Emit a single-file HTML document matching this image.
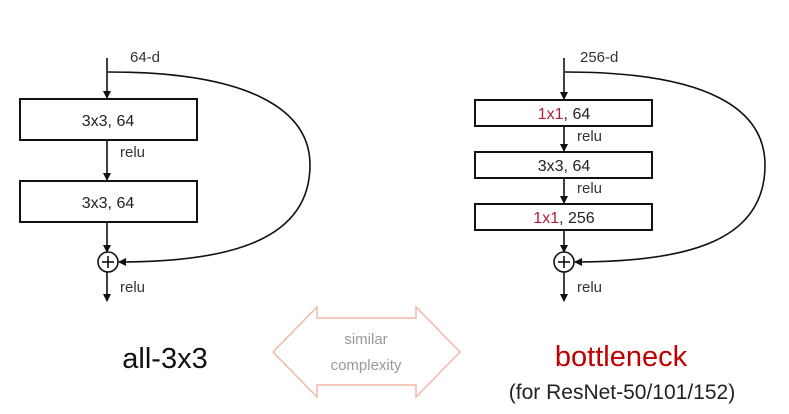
<!DOCTYPE html>
<html><head><meta charset="utf-8"><style>
html,body{margin:0;padding:0;background:#fff;}
svg{display:block;font-family:"Liberation Sans",sans-serif;}
</style></head><body>
<svg width="789" height="414" viewBox="0 0 789 414" xmlns="http://www.w3.org/2000/svg">
<defs><marker id="a" markerWidth="8" markerHeight="8" refX="7" refY="4" orient="auto" markerUnits="userSpaceOnUse"><path d="M0,0 L8,4 L0,8 z" fill="#111"/></marker></defs>
<g stroke="#111" stroke-width="1.6" fill="none">
<!-- left -->
<line x1="107" y1="58" x2="107" y2="98" marker-end="url(#a)"/>
<rect x="20" y="99" width="177" height="41" stroke-width="2"/>
<line x1="107" y1="140" x2="107" y2="180" marker-end="url(#a)"/>
<rect x="20" y="181" width="177" height="41" stroke-width="2"/>
<line x1="107" y1="222" x2="107" y2="252" marker-end="url(#a)"/>
<circle cx="108" cy="262" r="10"/>
<line x1="108" y1="256" x2="108" y2="268"/><line x1="102" y1="262" x2="114" y2="262"/>
<line x1="107" y1="272" x2="107" y2="301" marker-end="url(#a)"/>
<path d="M108,72 C250,72 310,110 310,165 C310,240 230,262 119,262" marker-end="url(#a)"/>
<!-- right -->
<line x1="564" y1="58" x2="564" y2="99" marker-end="url(#a)"/>
<rect x="475" y="100" width="177" height="26" stroke-width="2"/>
<line x1="564" y1="126" x2="564" y2="151" marker-end="url(#a)"/>
<rect x="475" y="152" width="177" height="26" stroke-width="2"/>
<line x1="564" y1="178" x2="564" y2="203" marker-end="url(#a)"/>
<rect x="475" y="204" width="177" height="26" stroke-width="2"/>
<line x1="564" y1="230" x2="564" y2="252" marker-end="url(#a)"/>
<circle cx="564" cy="262" r="10"/>
<line x1="564" y1="256" x2="564" y2="268"/><line x1="558" y1="262" x2="570" y2="262"/>
<line x1="564" y1="272" x2="564" y2="301" marker-end="url(#a)"/>
<path d="M565,72 C710,72 765,110 765,165 C765,240 690,262 575,262" marker-end="url(#a)"/>
</g>
<!-- double arrow -->
<path d="M273,352 L317,307 L317,318 L416,318 L416,307 L460,352 L416,397 L416,385 L317,385 L317,397 Z" fill="none" stroke="#f2b8a8" stroke-width="1.5"/>
<g fill="#333" font-size="15">
<text x="130" y="62">64-d</text>
<text x="120" y="157">relu</text>
<text x="120" y="292">relu</text>
<text x="580" y="62">256-d</text>
<text x="577" y="141">relu</text>
<text x="577" y="193">relu</text>
<text x="577" y="292">relu</text>
</g>
<g fill="#222" font-size="16" text-anchor="middle">
<text x="108" y="126">3x3, 64</text>
<text x="108" y="208">3x3, 64</text>
<text x="564" y="119"><tspan fill="#b0203a">1x1</tspan>, 64</text>
<text x="564" y="171">3x3, 64</text>
<text x="564" y="223"><tspan fill="#b0203a">1x1</tspan>, 256</text>
</g>
<text x="165" y="368" font-size="29" fill="#111" text-anchor="middle">all-3x3</text>
<text x="366" y="344" font-size="15" fill="#999" text-anchor="middle">similar</text>
<text x="366" y="370" font-size="15" fill="#999" text-anchor="middle">complexity</text>
<text x="621" y="366" font-size="29" fill="#c00000" text-anchor="middle">bottleneck</text>
<text x="622" y="399" font-size="21" fill="#222" text-anchor="middle">(for ResNet-50/101/152)</text>
</svg>
</body></html>
